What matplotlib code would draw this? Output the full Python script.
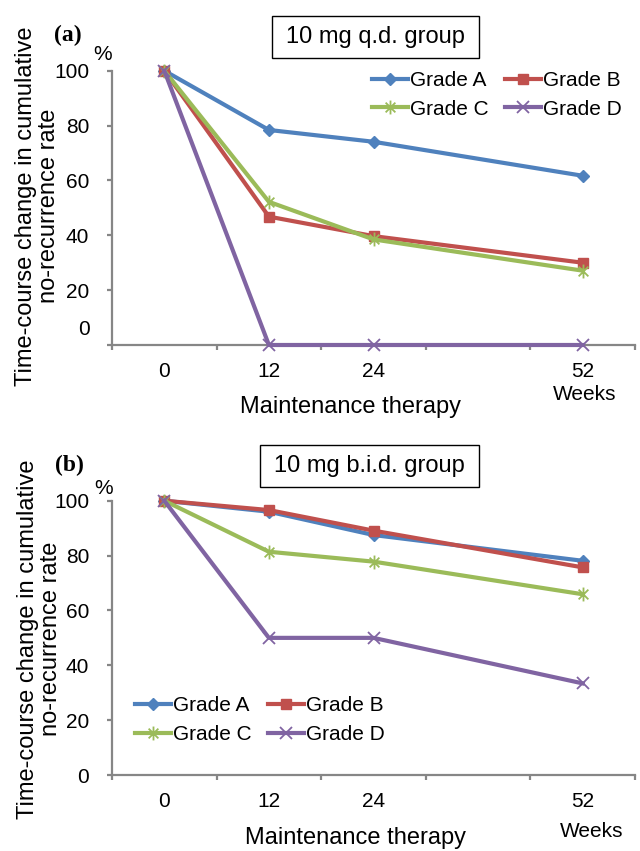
import matplotlib
matplotlib.use('Agg')
import matplotlib.pyplot as plt
from matplotlib.path import Path
from matplotlib.patches import Rectangle

plt.rcParams['font.family'] = ['Liberation Sans', 'DejaVu Sans']

# category axis: the slot between 24 and 52 is left blank
slots = ['0', '12', '24', '', '52']
weeks = ['0', '12', '24', '52']
grades = ['Grade A', 'Grade B', 'Grade C', 'Grade D']

# (a) 10 mg q.d. group
qd_A = [100, 78.4, 74.1, 61.7]
qd_B = [100, 46.8, 39.7, 30.0]
qd_C = [100, 52.2, 38.5, 27.1]
qd_D = [100, 0, 0, 0]

# (b) 10 mg b.i.d. group
bid_A = [100, 96.0, 87.5, 78.1]
bid_B = [100, 96.6, 89.1, 75.7]
bid_C = [100, 81.4, 77.8, 65.9]
bid_D = [100, 50, 50, 33.4]

y_ticks = [0, 20, 40, 60, 80, 100]

colors = ['#4F81BD', '#C0504D', '#9BBB59', '#8064A2']
gray = '#868686'

star = Path([(0, -1), (0, 1), (-0.7, -0.7), (0.7, 0.7), (-0.7, 0.7), (0.7, -0.7)],
            [Path.MOVETO, Path.LINETO, Path.MOVETO, Path.LINETO, Path.MOVETO, Path.LINETO])
markers = [('D', 6.5, 1.0), ('s', 7, 1.0), (star, 10, 1.3), ('x', 8.5, 1.3)]

x = [slots.index(w) for w in weeks]

fig = plt.figure(figsize=(6.4, 8.51), dpi=100)
ax1 = fig.add_axes([0.175, 0.5946, 0.8172, 0.3223])
ax2 = fig.add_axes([0.175, 0.0893, 0.8172, 0.3223])


def draw(ax, series):
    lines = []
    for vals, lab, c, (m, ms, mew) in zip(series, grades, colors, markers):
        ln, = ax.plot(x, vals, color=c, lw=3.0, marker=m, markersize=ms,
                      markeredgewidth=mew, markerfacecolor=c, markeredgecolor=c,
                      label=lab, clip_on=False, zorder=3)
        lines.append(ln)
    ax.set_xlim(-0.5, len(slots) - 0.5)
    ax.set_ylim(0, 100)
    for s in ['top', 'right']:
        ax.spines[s].set_visible(False)
    for s in ['left', 'bottom']:
        ax.spines[s].set_color(gray)
        ax.spines[s].set_linewidth(1.6)
    ax.set_xticks([i - 0.5 for i in range(len(slots) + 1)])
    ax.set_xticklabels([])
    ax.set_xticks(range(len(slots)), slots, minor=True)
    ax.tick_params(axis='x', which='major', length=3.8, width=1.6, color=gray)
    ax.tick_params(axis='x', which='minor', length=0, pad=12, labelsize=15)
    ax.set_yticks(y_ticks, [str(v) for v in y_ticks])
    ax.tick_params(axis='y', which='major', length=3.8, width=1.6, color=gray,
                   pad=12.5, labelsize=15)
    return lines


l1 = draw(ax1, [qd_A, qd_B, qd_C, qd_D])
l2 = draw(ax2, [bid_A, bid_B, bid_C, bid_D])

# in (a) the "0" label sits above its tick
ax1.set_yticks(y_ticks, [''] + [str(v) for v in y_ticks[1:]])
ax1.set_yticks([6.3], ['0'], minor=True)
ax1.tick_params(axis='y', which='minor', length=0, pad=16, labelsize=15)

leg_kw = dict(ncol=2, frameon=False, fontsize=15, handlelength=1.73,
              handletextpad=0.1, columnspacing=0.77, labelspacing=0.47,
              borderpad=0, borderaxespad=0, loc='upper left',
              bbox_transform=fig.transFigure)
# row-wise order: A B / C D
order = [0, 2, 1, 3]
ax1.legend([l1[i] for i in order], [grades[i] for i in order],
           bbox_to_anchor=(0.5808, 0.9166), **leg_kw)
ax2.legend([l2[i] for i in order], [grades[i] for i in order],
           bbox_to_anchor=(0.2109, 0.1821), **leg_kw)

W, H = 640.0, 851.0


def box_title(txt, x0, x1, y0, y1):
    fig.add_artist(Rectangle((x0 / W, 1 - y1 / H), (x1 - x0) / W, (y1 - y0) / H,
                             transform=fig.transFigure, fill=False,
                             edgecolor='black', lw=1.0))
    fig.text((x0 + x1) / 2 / W, 1 - (y0 + y1) / 2 / H, txt, fontsize=17,
             ha='center', va='center')


box_title('10 mg q.d. group', 271.7, 479.3, 16, 58.3)
box_title('10 mg b.i.d. group', 260, 479.3, 445, 486.7)

ylab1 = 'Time-course change in cumulative'
ylab2 = 'no-recurrence rate'
for (px, py, tag, pcx, pcy, lx1, lx2, ly, xx, xy, wx, wy) in [
        (68, 35, '(a)', 103, 55, 26, 49, 206, 351, 406.7, 585, 395),
        (69, 465, '(b)', 103.3, 488.3, 28, 51.5, 639, 355.5, 838, 591.7, 831.7)]:
    fig.text(px / W, 1 - py / H, tag, fontsize=17, fontweight='bold',
             family=['Liberation Serif', 'DejaVu Serif'], ha='center', va='center')
    fig.text(pcx / W, 1 - pcy / H, '%', fontsize=15, ha='center', va='center')
    fig.text(lx1 / W, 1 - ly / H, ylab1, fontsize=17, rotation=90, ha='center',
             va='center')
    fig.text(lx2 / W, 1 - ly / H, ylab2, fontsize=17, rotation=90, ha='center',
             va='center')
    fig.text(xx / W, 1 - xy / H, 'Maintenance therapy', fontsize=17,
             ha='center', va='center')
    fig.text(wx / W, 1 - wy / H, 'Weeks', fontsize=15, ha='center', va='center')

fig.savefig('out.png', dpi=100)
